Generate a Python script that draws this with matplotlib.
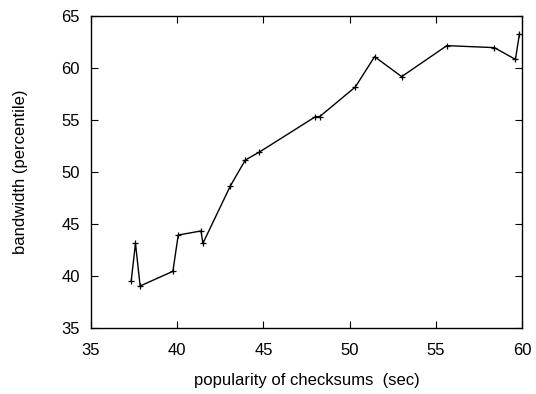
import matplotlib
matplotlib.use("Agg")
from matplotlib import pyplot as plt

# data
popularity = [37.33, 37.58, 37.85, 39.75, 40.06, 41.38, 41.49, 43.08, 43.95,
              44.77, 48.02, 48.26, 50.33, 51.45, 53.02, 55.64, 58.39, 59.62, 59.85]
bandwidth = [39.5, 43.14, 39.04, 40.45, 43.94, 44.33, 43.14, 48.65, 51.15,
             51.92, 55.32, 55.32, 58.17, 61.09, 59.17, 62.15, 61.96, 60.83, 63.27]
xticks = [35, 40, 45, 50, 55, 60]
yticks = [35, 40, 45, 50, 55, 60, 65]

plt.rcParams['font.family'] = ['Liberation Sans', 'DejaVu Sans']

fig = plt.figure(figsize=(5.36, 3.94), dpi=100)
ax = fig.add_axes([91 / 536, 66 / 394, 431 / 536, 312 / 394])

ax.plot(popularity, bandwidth, color='black', linewidth=1.0,
        marker='+', markersize=5, markeredgewidth=0.9)

ax.set_xlim(35, 60)
ax.set_ylim(35, 65)
ax.set_xticks(xticks)
ax.set_yticks(yticks)
ax.tick_params(direction='in', top=True, right=True, length=5, width=0.8,
               labelsize=12)
ax.tick_params(axis='x', pad=10.5)
ax.tick_params(axis='y', pad=8)
for s in ax.spines.values():
    s.set_linewidth(1.0)

ax.set_xlabel("popularity of checksums  (sec)", fontsize=12, labelpad=11)
ax.set_ylabel("bandwidth (percentile)", fontsize=12, labelpad=24)

fig.savefig("out.png", dpi=100)
